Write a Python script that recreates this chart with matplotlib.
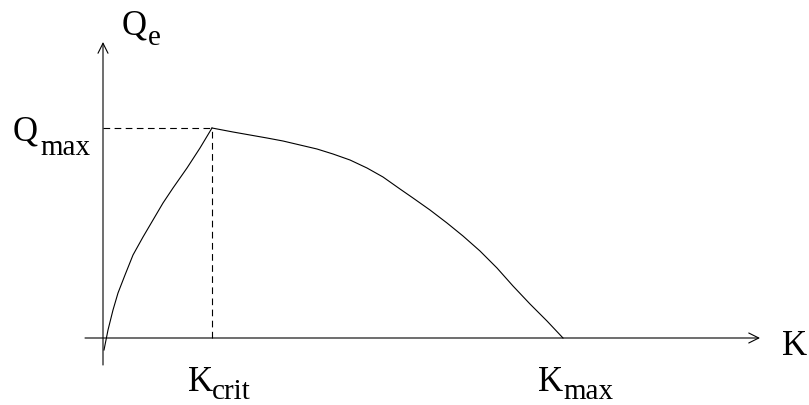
import matplotlib.pyplot as plt

plt.rcParams['font.family'] = 'Liberation Serif'

# flow-density curve (K = density, Q = flow), arbitrary units
k_up = [1, 5, 10, 15, 22, 30, 40, 50, 60, 70, 84, 97, 109]
q_up = [-12, 8, 28, 45, 63, 83, 101, 118, 135, 150, 170, 190, 210]
k_down = [109, 130, 147, 164, 180, 197, 214, 230, 247, 264, 280, 297,
          310, 327, 344, 360, 377, 394, 410, 427, 444, 460]
q_down = [210, 206, 203, 200, 197, 193, 189, 184, 178, 170, 161, 149,
          140, 128, 115, 102, 87, 70, 52, 34, 17, 0]

k_crit = 109
k_max = 460
q_max = 210

fig = plt.figure(figsize=(8.09, 4.05), dpi=100)
ax = fig.add_axes([0, 0, 1, 1])
ax.set_xlim(-103, 706)
ax.set_ylim(-67, 338)
ax.axis('off')

lw = 0.8
arrow = dict(arrowstyle='->', color='black', lw=lw, mutation_scale=18,
             shrinkA=0, shrinkB=0)
ax.annotate('', xy=(657, 0), xytext=(-18, 0), arrowprops=arrow)
ax.annotate('', xy=(0, 296), xytext=(0, -27), arrowprops=arrow)

ax.plot(k_up, q_up, color='black', lw=lw, solid_joinstyle='round')
ax.plot(k_down, q_down, color='black', lw=lw, solid_joinstyle='round')

dash = (0, (6, 4))
ax.plot([0, k_crit], [q_max, q_max], color='black', lw=lw, ls=dash)
ax.plot([k_crit, k_crit], [0, q_max], color='black', lw=lw, ls=dash)


def label(x, y, main, sub=None, sx=0, sy=0):
    ax.text(x, y, main, fontsize=25, ha='left', va='baseline')
    if sub:
        ax.text(sx, sy, sub, fontsize=21, ha='left', va='baseline')


label(19, 303, 'Q', 'e', 45, 293)
label(-90, 198, 'Q', 'max', -63, 183)
label(85, -53, 'K', 'crit', 109, -61)
label(435, -53, 'K', 'max', 460, -61)
label(679, -17, 'K')

plt.savefig('out.png', dpi=100)
